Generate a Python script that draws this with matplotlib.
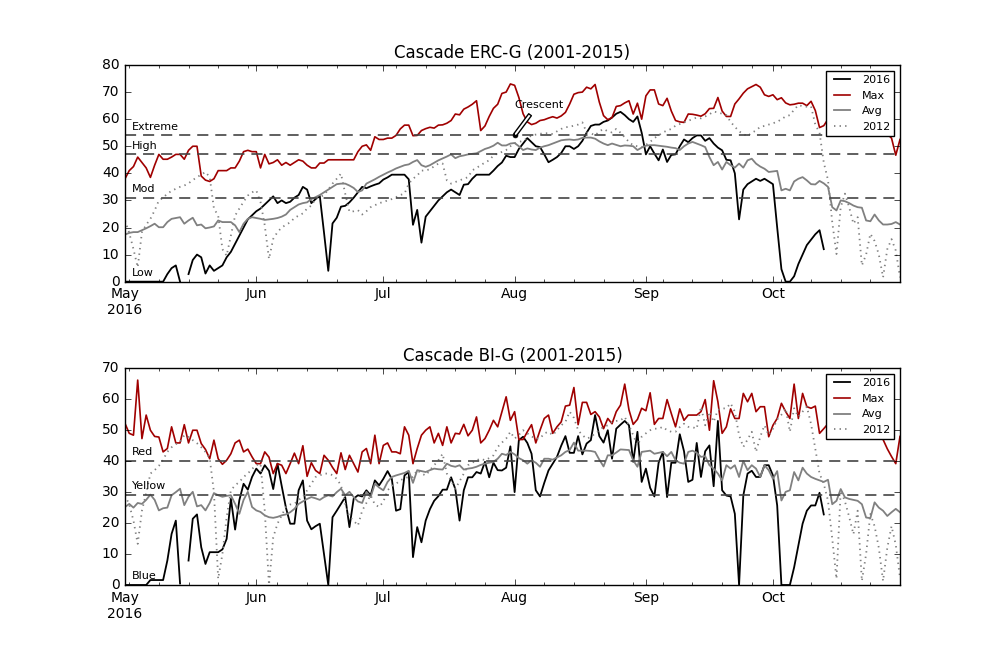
import numpy as np
import pandas as pd
import matplotlib
matplotlib.use("Agg")
import matplotlib.pyplot as plt
import matplotlib.dates as mdates

plt.style.use("classic")

nan = float("nan")

# --- data: one value per day, 1 May .. 31 Oct 2016 ---
days = pd.date_range("2016-05-01", "2016-10-31", freq="D")
month_ticks = pd.to_datetime(["2016-05-01", "2016-06-01", "2016-07-01",
                              "2016-08-01", "2016-09-01", "2016-10-01"])
month_labels = ["May\n2016", "Jun", "Jul", "Aug", "Sep", "Oct"]

erc_2016 = [
    0, 0, 0, 0, 0, 0, 0, 0, 0, 0,
    2.8, 5, 6, 0, nan, 2.8, 8, 10, 9, 3,
    6, 4, 5, 6, 9, 11, 14, 17, 20, 23,
    24.5, 26, 27, 28.5, 30, 31.5, 29, 30, 29, 29.5,
    31, 32, 35, 34, 29, 30.5, 31.6, 18, 4, 21.5,
    23.6, 27.7, 28, 29.3, 31, 33, 35, 34.5, 35.2, 35.8,
    36.3, 37.7, 38.5, 39.5, 39.5, 39.5, 39.5, 37.8, 21, 26.5,
    14.4, 24, 26, 28, 30, 31.5, 33, 34, 33, 32,
    35.8, 36, 38, 39.5, 39.5, 39.5, 39.5, 41, 42.7, 44,
    46.5, 46, 46, 49, 51, 53, 51.5, 50, 49.7, 47,
    44.1, 45, 46, 47.5, 50, 50, 49, 50, 52, 55,
    57.5, 58, 58, 59, 59.5, 60.6, 62, 62.7, 61.5, 60,
    59, 61, 55, 47, 50, 47.3, 44.8, 48.8, 44.2, 46.8,
    47, 50, 52.5, 51.5, 53, 54, 54, 52, 53, 51,
    49.5, 48.5, 45, 44.8, 40, 23, 34, 36, 37, 38,
    37.2, 38, 37, 36, 20, 4.6, 0, 0, 2, 6.5,
    10, 13.5, 15.5, 17.5, 19, 12, nan, nan, nan, nan,
    nan, nan, nan, nan, nan, nan, nan, nan, nan, nan,
    nan, nan, nan, nan,
]
erc_max = [
    38, 41, 42.5, 46, 44, 42, 38.5, 43, 47, 45.2,
    45.2, 46, 47, 47, 45.2, 48.5, 50, 50, 39, 37.5,
    37, 38, 41, 41, 41, 42, 42, 44.5, 48, 48.5,
    48, 48, 42, 47, 43.5, 44, 45, 43, 44, 43,
    44, 45, 44.5, 43, 42, 42, 43.8, 43.8, 45, 45,
    45, 45, 45, 45, 45, 48, 50, 50.5, 48.5, 53.5,
    52.5, 52.5, 53, 53, 54, 56.4, 57.8, 57.8, 53.9, 54,
    55.8, 56.5, 57, 56.7, 57.8, 57.9, 58.5, 59.5, 61.9, 61.6,
    63.7, 64.5, 65.5, 66.8, 55.8, 57.5, 61, 64, 65.5, 69.5,
    70, 73, 72.5, 68, 62, 59, 58, 58.5, 59.5, 59.8,
    60.4, 60.9, 60.4, 61.2, 62.5, 65.6, 69.2, 69.8, 70, 71.8,
    71.2, 72.8, 66.3, 61.3, 59.8, 60.6, 64.7, 65, 66, 66.8,
    61.9, 65.9, 60, 68.6, 70.8, 70.8, 65.6, 65, 67.7, 63,
    59.5, 59, 58.8, 61.9, 61.8, 61.5, 61.1, 62, 63.9, 64,
    68, 63, 61, 61, 65.6, 67.5, 69.6, 71.2, 72, 72.8,
    71.8, 69, 68.4, 69, 67.2, 67.9, 66, 65.3, 65.5, 65.9,
    65.9, 65, 66.6, 63.2, 56.9, 57.6, 60, 63, 64, 62,
    65, 63, 60, 62, 64, 61, 60, 62, 58, 56,
    54.5, 53, 46.7, 52.5,
]
erc_avg = [
    17.4, 18, 18.3, 18.3, 19, 19.7, 20.5, 21.4, 20.1, 20.1,
    22, 23.2, 23.5, 23.8, 21.4, 22.6, 23.6, 20.8, 21.1, 19.7,
    20, 20.4, 22.6, 22, 22, 22, 20.8, 18.3, 21.4, 23.2,
    23.8, 23.5, 23.2, 22.8, 23, 23.2, 23.5, 24, 24.8, 26.5,
    27.5, 28.5, 29, 29.3, 30.5, 31.2, 32, 33, 34, 35,
    36, 36.2, 36.2, 35.5, 34.6, 33.1, 33.7, 36.2, 37, 37.8,
    38.7, 39.5, 40.3, 41, 41.8, 42.4, 43, 43.3, 44.2, 44.9,
    43, 42.4, 43, 43.9, 44.8, 45.5, 46.2, 47, 45.6, 46.3,
    46.6, 47, 47.2, 47.4, 48.2, 49, 49.5, 50.2, 51.3, 50.3,
    50.3, 51, 51.2, 50, 48.6, 49.2, 48.8, 48.6, 49.5, 50,
    50.4, 51, 51.6, 52.2, 52.4, 52.5, 52.3, 52.5, 53.1, 53.2,
    53.2, 52.8, 51.8, 51, 50.4, 51, 50.5, 50, 50.3, 50.2,
    50, 48.6, 49.5, 50.2, 50.4, 50.4, 50.2, 50, 49.8, 49.5,
    49.3, 48.6, 50, 51, 51.6, 51, 50.4, 49.7, 46, 43,
    44.2, 41.4, 44.2, 43, 42.1, 43.6, 42.1, 44.8, 45.4, 43.6,
    42.5, 41.7, 40.5, 40.7, 40.9, 33.7, 34.3, 33.7, 37, 38,
    38.6, 37.4, 36, 35.9, 37.2, 36.3, 35, 27.5, 26.3, 30,
    29.7, 29, 28.1, 27.5, 27.3, 22.6, 22.3, 24.8, 22.6, 21.1,
    21.1, 21.3, 22, 21.1,
]
erc_2012 = [
    22.6, 18, 12, 5.3, 18.3, 21, 23.2, 26.3, 30, 31,
    32.5, 33.5, 34.3, 35, 35.5, 36.3, 37.5, 38.6, 39.5, 40.5,
    38.6, 27, 24.4, 12, 9.6, 17, 24.4, 27, 29.5, 31.8,
    33, 33.7, 29.4, 20.8, 8.4, 15.8, 18.3, 20, 21, 21.9,
    23.5, 24.4, 25.2, 27, 28.1, 30.6, 31.2, 32, 34, 36.2,
    38, 39.9, 32.5, 25.8, 26, 26.4, 24.8, 26, 27.5, 28.2,
    29, 29.4, 30, 30.5, 31.2, 32, 32.5, 36.2, 38, 39.2,
    41, 41.1, 41.5, 42.6, 43.6, 43.6, 37.4, 36.2, 36.8, 37.4,
    38, 38.6, 41.1, 42, 43, 44, 44.8, 46.6, 47.3, 47.9,
    48.6, 50, 51, 51.6, 52, 53, 54, 54.3, 54.6, 54.8,
    54.8, 54.5, 55.5, 56.4, 57, 57.2, 57.6, 58, 58.8, 55.1,
    54.8, 54, 55.5, 56.4, 55.5, 55.1, 56.4, 55, 53.3, 51.6,
    50.3, 50, 49.7, 50.5, 51.6, 53, 54, 55.1, 55.8, 56.4,
    57.6, 58.2, 58.8, 59.4, 60, 60.6, 60.3, 61, 61.8, 62.8,
    62.5, 62, 61.5, 59, 57.2, 55.5, 54.5, 53.7, 55, 55.8,
    57.2, 57.5, 58, 58.5, 59, 60, 61, 61.5, 63.5, 65.2,
    64.8, 64.6, 64.7, 58, 55, 44, 37.5, 22, 10.2, 27.5,
    32.5, 27.5, 21.4, 23.8, 6, 10, 17.7, 15, 10, 1.6,
    12, 15.7, 11.5, 1.6,
]

bi_2016 = [
    0, 0, 0, 0, 0, 0, 1.6, 1.6, 1.6, 1.6,
    7.9, 16.5, 20.8, 0.5, nan, 7.9, 21.4, 22.8, 12.2, 6.8,
    10.6, 10.6, 10.6, 11.5, 14.9, 27.9, 17.9, 27.4, 32.7, 30.8,
    34.9, 37.6, 36, 38.7, 36.9, 31, 39.2, 32, 25, 19.8,
    19.8, 30.6, 33.8, 20.8, 18, 19, 19.8, 10, 0, 21.9,
    24, 26.2, 28.4, 18.7, 27.9, 29, 28.6, 30.6, 29, 33.8,
    32.2, 34.3, 36.8, 34.3, 24, 24.5, 35.4, 36.5, 9, 18.7,
    13.8, 20.8, 24.5, 27.2, 28.7, 30.8, 30.8, 34.8, 31, 20.8,
    30.6, 34.8, 34.8, 36.5, 36, 39.8, 34.8, 39.5, 37.1, 37,
    37.9, 44.8, 30, 46.8, 47.9, 45.9, 42.4, 30.6, 28.6, 33,
    37, 39.2, 41.4, 45, 48.1, 42.7, 42.7, 48.1, 42.2, 45.7,
    46.8, 54.9, 48.1, 46, 50, 40.8, 50.5, 51.8, 53, 51.6,
    39.8, 49.5, 33.3, 37.6, 31.4, 28.6, 39.5, 43, 28.4, 39.5,
    39.5, 48.7, 43.2, 33.3, 34, 45.9, 34.9, 43.2, 45.1, 31.9,
    53, 30.6, 28.9, 28.6, 23, 0, 28.9, 36, 36.9, 34.9,
    34.9, 38.7, 38.7, 35.4, 25.7, 0, 0, 0, 5.7, 12.7,
    19.8, 24, 25.7, 25.7, 29.8, 22.8, nan, nan, nan, nan,
    nan, nan, nan, nan, nan, nan, nan, nan, nan, nan,
    nan, nan, nan, nan,
]
bi_max = [
    52.2, 49, 48.4, 66.2, 47.3, 54.9, 50, 48, 47.8, 43,
    44.1, 51.1, 45.9, 45.9, 51.8, 45.9, 50, 50, 45.7, 43.8,
    40.8, 46.8, 40.8, 39, 40.3, 42.4, 45.9, 46.8, 43, 43.9,
    41.4, 39.2, 39.2, 43, 41.3, 36, 39.2, 38.7, 36, 39.2,
    42.6, 39.2, 45, 35.1, 39.5, 37, 36, 41.9, 40.3, 38,
    36, 42.7, 37.3, 41.9, 39.2, 36.5, 43, 44.1, 39.2, 48.4,
    39.2, 45.1, 45.9, 43, 43, 42.4, 51.1, 48.4, 39.2, 44.1,
    48.4, 50, 51.1, 45.9, 49, 45.1, 51.1, 45.9, 49, 48.8,
    51.9, 48.2, 50, 54.3, 45.9, 47.3, 50, 53.2, 51.1, 56,
    60.8, 53.2, 56, 47, 47, 49.5, 51.8, 45.9, 50, 53.8,
    54.9, 49, 51.1, 52.7, 57.8, 58.1, 63.8, 51.8, 59, 59,
    55.1, 56, 54.3, 50.5, 53.8, 52.1, 56, 58.1, 64.9, 56.6,
    51.9, 53.5, 57.1, 56.3, 62.1, 51.9, 53.8, 53.8, 59.9, 55.4,
    51.1, 56.9, 53.2, 54.9, 54.9, 54.9, 56, 59.9, 50, 66,
    59.2, 49, 51.1, 56.9, 53.8, 53.8, 61.9, 59.2, 61.9, 56,
    57.6, 57.6, 47.9, 51.6, 53.8, 58.7, 56, 53.8, 64.9, 53.8,
    61.9, 57.6, 57.1, 57.8, 49, 50.5, 52.1, 54, 52, 56,
    54, 51, 55, 53, 50, 54, 52, 50, 49, 47,
    44, 41.5, 39.2, 48,
]
bi_avg = [
    25.2, 26.2, 25, 26.5, 26.2, 27.5, 29.2, 27.5, 24.1, 24.8,
    25, 29, 30, 31.1, 25.8, 28.5, 30.1, 25.4, 25.8, 24.1,
    26.5, 29.7, 29, 28.5, 28.8, 29, 26.2, 23, 27.5, 30.1,
    25.2, 24.1, 23.6, 22.5, 21.9, 21.7, 22, 22.5, 22.8, 23.5,
    24.6, 26.2, 27, 27.8, 28.4, 28, 27.5, 28.4, 29, 28.6,
    30, 31.1, 29, 30.1, 28.4, 27, 26.5, 30.1, 28.4, 32.7,
    31.5, 30.6, 33.3, 34.9, 35.4, 35.8, 36.2, 36.9, 33, 37.1,
    36.8, 36.5, 37.1, 37.6, 37.4, 37.3, 39.2, 38.5, 38.2, 38.7,
    37.3, 37.6, 37.8, 38.2, 38.8, 39.2, 39.5, 39.8, 40.8, 42.4,
    42, 43, 42.2, 41, 40.3, 39.2, 40.3, 39.5, 38.2, 40.8,
    40.8, 40.5, 41.2, 41.9, 43, 43.6, 46, 43.4, 43.4, 43.4,
    43.3, 43, 40.5, 38.3, 41.9, 41.9, 42.8, 43.8, 43.7, 43.6,
    40.3, 38.2, 43, 43.2, 43.4, 42.4, 42.7, 43, 41.6, 43,
    40.3, 39.5, 39.2, 43, 43.4, 42.7, 41.4, 41.6, 38.7, 37.6,
    36, 33.8, 38.7, 37.6, 38.7, 34.9, 40.1, 37.1, 38.7, 37.6,
    34.9, 38.7, 37.1, 34.3, 36.8, 27.3, 30.1, 30.6, 36.5, 33.8,
    37.9, 36, 34.9, 34.3, 33.8, 33.3, 34, 26.1, 27.2, 31,
    28.3, 27.8, 27.5, 27.2, 26.1, 21.8, 21.6, 26.7, 25, 24,
    22.3, 23.5, 24.6, 23.5,
]
bi_2012 = [
    29, 26, 20.8, 13.3, 24, 29.7, 36, 37.1, 38.5, 40.5,
    43, 44.5, 45.5, 46.2, 48.4, 47.8, 46.8, 45.8, 44.5, 43,
    41, 30, 2, 10, 21.9, 30.6, 32.2, 33.3, 34.9, 36,
    37.5, 38.7, 39.2, 24, 0, 15.4, 19.8, 22.5, 25.2, 26,
    26.2, 27.5, 28.4, 30.6, 32.7, 34.9, 35.4, 36, 36, 35.5,
    34.3, 32.2, 26.2, 22, 20.8, 19.2, 24, 26.5, 29, 26,
    25.2, 26.9, 30.6, 32, 32.7, 33.8, 34.5, 34.9, 34.9, 37.1,
    36, 35.4, 37.1, 38.7, 40.3, 42.4, 36, 33.8, 31.1, 33.5,
    36, 38.7, 39.5, 40.3, 40.8, 40.3, 41, 41.9, 44.6, 46,
    47.3, 49.5, 47.3, 48.5, 50, 49, 48, 47.3, 47.3, 49,
    49.5, 48.4, 50, 51.6, 52.7, 56, 54, 50, 48.4, 47.3,
    47.8, 49, 50, 51.1, 51.6, 52.7, 53, 53.2, 54.3, 51.6,
    48.4, 45.1, 47.9, 49, 50, 50.5, 50.5, 51.1, 50, 49.5,
    49.5, 51, 52.1, 51.1, 51, 50.5, 57.6, 51.6, 56, 52.7,
    56.6, 57, 57.1, 58.7, 56, 48.4, 44.6, 47, 49.5, 43,
    47.9, 51.6, 48.4, 50.5, 53.5, 55, 57.1, 49.5, 57.1, 54.3,
    56, 57.6, 52, 44, 36, 32.7, 27.2, 15, 2, 30.5,
    27, 22, 16.4, 24, 1.3, 10, 23, 19, 12, 1.3,
    12, 19, 13, 2.4,
]

erc_levels = [54, 47, 31, 0]
erc_level_names = ["Extreme", "High", "Mod", "Low"]
bi_levels = [40, 29, 0]
bi_level_names = ["Red", "Yellow", "Blue"]

crescent_day = pd.Timestamp("2016-08-01")
crescent_erc = 54
crescent_text_erc = 64


def draw_panel(ax, title, s2016, smax, savg, s2012, levels, names, ymax):
    ax.plot(days, s2016, color="black", lw=1.3, label="2016")
    ax.plot(days, smax, color="#a00000", lw=1.2, label="Max")
    ax.plot(days, savg, color="gray", lw=1.3, label="Avg")
    ax.plot(days, s2012, color="gray", lw=1.3, ls=":", label="2012")

    # fire danger levels
    label_x = days[0] + pd.Timedelta(days=1.6)
    for lev, name in zip(levels, names):
        if lev > 0:
            ax.axhline(lev, color="#444444", lw=1.2, dashes=(8, 5))
        ax.text(label_x, lev + 2, name, fontsize=8)

    ax.set_xlim(days[0], days[-1])
    ax.set_ylim(0, ymax)
    ax.set_xticks(month_ticks)
    ax.set_xticklabels(month_labels, fontsize=10)
    ax.xaxis.set_minor_locator(mdates.WeekdayLocator(byweekday=mdates.MO))
    ax.tick_params(axis="y", labelsize=10)
    ax.set_title(title, fontsize=12)
    ax.legend(loc="upper right", fontsize=8)


fig, axes = plt.subplots(2, 1, figsize=(10, 6.5), dpi=100, facecolor="white")
fig.subplots_adjust(left=0.125, right=0.9, top=0.9, bottom=0.1, hspace=0.4)

draw_panel(axes[0], "Cascade ERC-G (2001-2015)", erc_2016, erc_max, erc_avg,
           erc_2012, erc_levels, erc_level_names, 80)
draw_panel(axes[1], "Cascade BI-G (2001-2015)", bi_2016, bi_max, bi_avg,
           bi_2012, bi_levels, bi_level_names, 70)

# station marker with label
axes[0].plot([crescent_day], [crescent_erc], "o", color="black", ms=3.5, mec="black")
axes[0].annotate("Crescent", xy=(crescent_day, crescent_erc),
                 xytext=(crescent_day, crescent_text_erc), fontsize=8,
                 arrowprops=dict(arrowstyle="simple,head_length=0.1,head_width=0.3,tail_width=0.3",
                                 fc="white", ec="black", lw=1,
                                 relpos=(0.38, 0.0), shrinkA=1, shrinkB=0))

fig.savefig("out.png", dpi=100, facecolor="white")
